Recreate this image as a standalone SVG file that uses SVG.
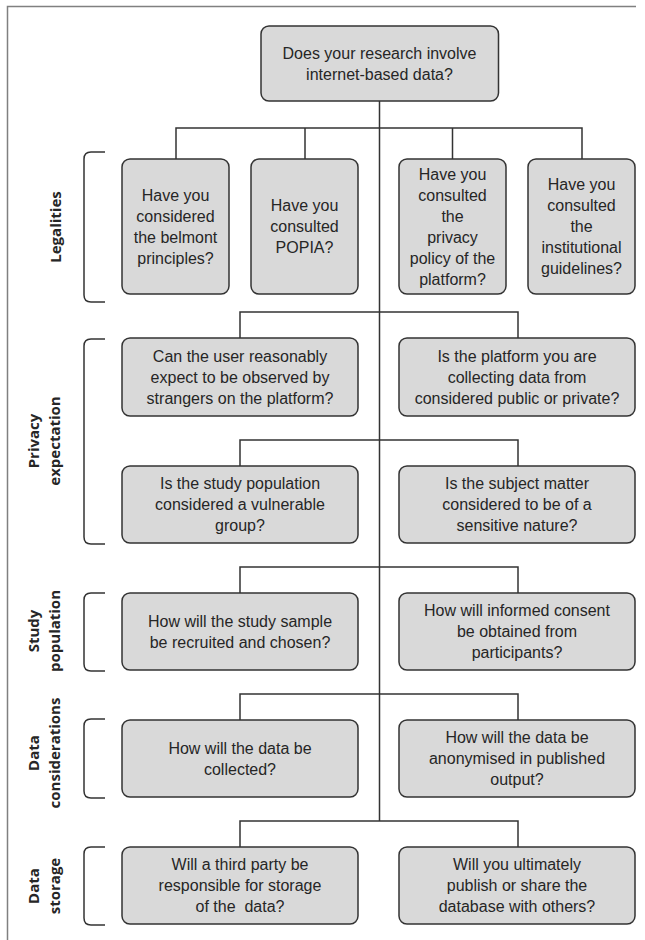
<svg xmlns="http://www.w3.org/2000/svg" width="645" height="940" viewBox="0 0 645 940">
<style>
.box{fill:#d9d9d9;stroke:#333;stroke-width:1.5}
.t{font-family:"Liberation Sans",Arial,sans-serif;font-size:16px;fill:#262626;text-anchor:middle}
.lbl{font-family:"Open Sans","DejaVu Sans",sans-serif;font-weight:bold;font-size:15px;fill:#262626;text-anchor:middle}
.con{fill:none;stroke:#333;stroke-width:1.5}
.br{fill:none;stroke:#333;stroke-width:1.5}
.frame{fill:none;stroke:#808080;stroke-width:1.5}
</style>
<g id="frame">
<path class="frame" d="M7.5,940 V6.5 H636"/>
</g>
<g id="connectors">
<path class="con" d="M379.5,101 V821"/>
<path class="con" d="M176,159 V128 H582 V159 M305,128 V159 M452.5,128 V159"/>
<path class="con" d="M240,338 V312 H518 V338"/>
<path class="con" d="M240,466 V440 H518 V466"/>
<path class="con" d="M240,593 V567 H518 V593"/>
<path class="con" d="M240,720 V694 H518 V720"/>
<path class="con" d="M240,847 V821 H518 V847"/>
</g>
<g id="brackets">
<path class="br" d="M105,152 H91 Q84,152 84,159 V295 Q84,302 91,302 H105"/>
<path class="br" d="M105,339 H91 Q84,339 84,346 V537 Q84,544 91,544 H105"/>
<path class="br" d="M105,593 H91 Q84,593 84,600 V664 Q84,671 91,671 H105"/>
<path class="br" d="M105,719 H91 Q84,719 84,726 V791 Q84,798 91,798 H105"/>
<path class="br" d="M105,847 H91 Q84,847 84,854 V918 Q84,925 91,925 H105"/>
</g>
<g id="label-legalities"><text class="lbl" transform="translate(60.5,227) rotate(-90)">Legalities</text></g>
<g id="label-privacy"><text class="lbl" transform="translate(39,441) rotate(-90)">Privacy</text><text class="lbl" transform="translate(60,441) rotate(-90)">expectation</text></g>
<g id="label-study"><text class="lbl" transform="translate(39,631) rotate(-90)">Study</text><text class="lbl" transform="translate(60,631) rotate(-90)">population</text></g>
<g id="label-dataconsiderations"><text class="lbl" transform="translate(39,753) rotate(-90)">Data</text><text class="lbl" transform="translate(60,753) rotate(-90)">considerations</text></g>
<g id="label-datastorage"><text class="lbl" transform="translate(39,886) rotate(-90)">Data</text><text class="lbl" transform="translate(60,886) rotate(-90)">storage</text></g>
<g id="n-root"><rect class="box" x="261" y="26" width="237.5" height="75" rx="8"/><text class="t"><tspan x="379.5" y="58.5">Does your research involve</tspan><tspan x="379.5" y="79.5">internet-based data?</tspan></text></g>
<g id="n-belmont"><rect class="box" x="122" y="159" width="107" height="135" rx="8"/><text class="t"><tspan x="175.5" y="200.5">Have you</tspan><tspan x="175.5" y="221.5">considered</tspan><tspan x="175.5" y="242.5">the belmont</tspan><tspan x="175.5" y="263.5">principles?</tspan></text></g>
<g id="n-popia"><rect class="box" x="251" y="159" width="107" height="135" rx="8"/><text class="t"><tspan x="304.5" y="211">Have you</tspan><tspan x="304.5" y="232">consulted</tspan><tspan x="304.5" y="253">POPIA?</tspan></text></g>
<g id="n-privacypolicy"><rect class="box" x="399" y="159" width="107" height="135" rx="8"/><text class="t"><tspan x="452.5" y="179.5">Have you</tspan><tspan x="452.5" y="200.5">consulted</tspan><tspan x="452.5" y="221.5">the</tspan><tspan x="452.5" y="242.5">privacy</tspan><tspan x="452.5" y="263.5">policy of the</tspan><tspan x="452.5" y="284.5">platform?</tspan></text></g>
<g id="n-institutional"><rect class="box" x="528" y="159" width="107" height="135" rx="8"/><text class="t"><tspan x="581.5" y="190">Have you</tspan><tspan x="581.5" y="211">consulted</tspan><tspan x="581.5" y="232">the</tspan><tspan x="581.5" y="253">institutional</tspan><tspan x="581.5" y="274">guidelines?</tspan></text></g>
<g id="n-observed"><rect class="box" x="122" y="338" width="236" height="78" rx="8"/><text class="t"><tspan x="240" y="361.5">Can the user reasonably</tspan><tspan x="240" y="382.5">expect to be observed by</tspan><tspan x="240" y="403.5">strangers on the platform?</tspan></text></g>
<g id="n-publicprivate"><rect class="box" x="399" y="338" width="236" height="78" rx="8"/><text class="t"><tspan x="517" y="361.5">Is the platform you are</tspan><tspan x="517" y="382.5">collecting data from</tspan><tspan x="517" y="403.5">considered public or private?</tspan></text></g>
<g id="n-vulnerable"><rect class="box" x="122" y="466" width="236" height="77" rx="8"/><text class="t"><tspan x="240" y="489">Is the study population</tspan><tspan x="240" y="510">considered a vulnerable</tspan><tspan x="240" y="531">group?</tspan></text></g>
<g id="n-sensitive"><rect class="box" x="399" y="466" width="236" height="77" rx="8"/><text class="t"><tspan x="517" y="489">Is the subject matter</tspan><tspan x="517" y="510">considered to be of a</tspan><tspan x="517" y="531">sensitive nature?</tspan></text></g>
<g id="n-recruited"><rect class="box" x="122" y="593" width="236" height="77" rx="8"/><text class="t"><tspan x="240" y="626.5">How will the study sample</tspan><tspan x="240" y="647.5">be recruited and chosen?</tspan></text></g>
<g id="n-consent"><rect class="box" x="399" y="593" width="236" height="77" rx="8"/><text class="t"><tspan x="517" y="616">How will informed consent</tspan><tspan x="517" y="637">be obtained from</tspan><tspan x="517" y="658">participants?</tspan></text></g>
<g id="n-collected"><rect class="box" x="122" y="720" width="236" height="77" rx="8"/><text class="t"><tspan x="240" y="753.5">How will the data be</tspan><tspan x="240" y="774.5">collected?</tspan></text></g>
<g id="n-anonymised"><rect class="box" x="399" y="720" width="236" height="77" rx="8"/><text class="t"><tspan x="517" y="743">How will the data be</tspan><tspan x="517" y="764">anonymised in published</tspan><tspan x="517" y="785">output?</tspan></text></g>
<g id="n-thirdparty"><rect class="box" x="122" y="847" width="236" height="77" rx="8"/><text class="t" style="white-space:pre"><tspan x="240" y="870">Will a third party be</tspan><tspan x="240" y="891">responsible for storage</tspan><tspan x="240" y="912">of the  data?</tspan></text></g>
<g id="n-publish"><rect class="box" x="399" y="847" width="236" height="77" rx="8"/><text class="t"><tspan x="517" y="870">Will you ultimately</tspan><tspan x="517" y="891">publish or share the</tspan><tspan x="517" y="912">database with others?</tspan></text></g>
</svg>
